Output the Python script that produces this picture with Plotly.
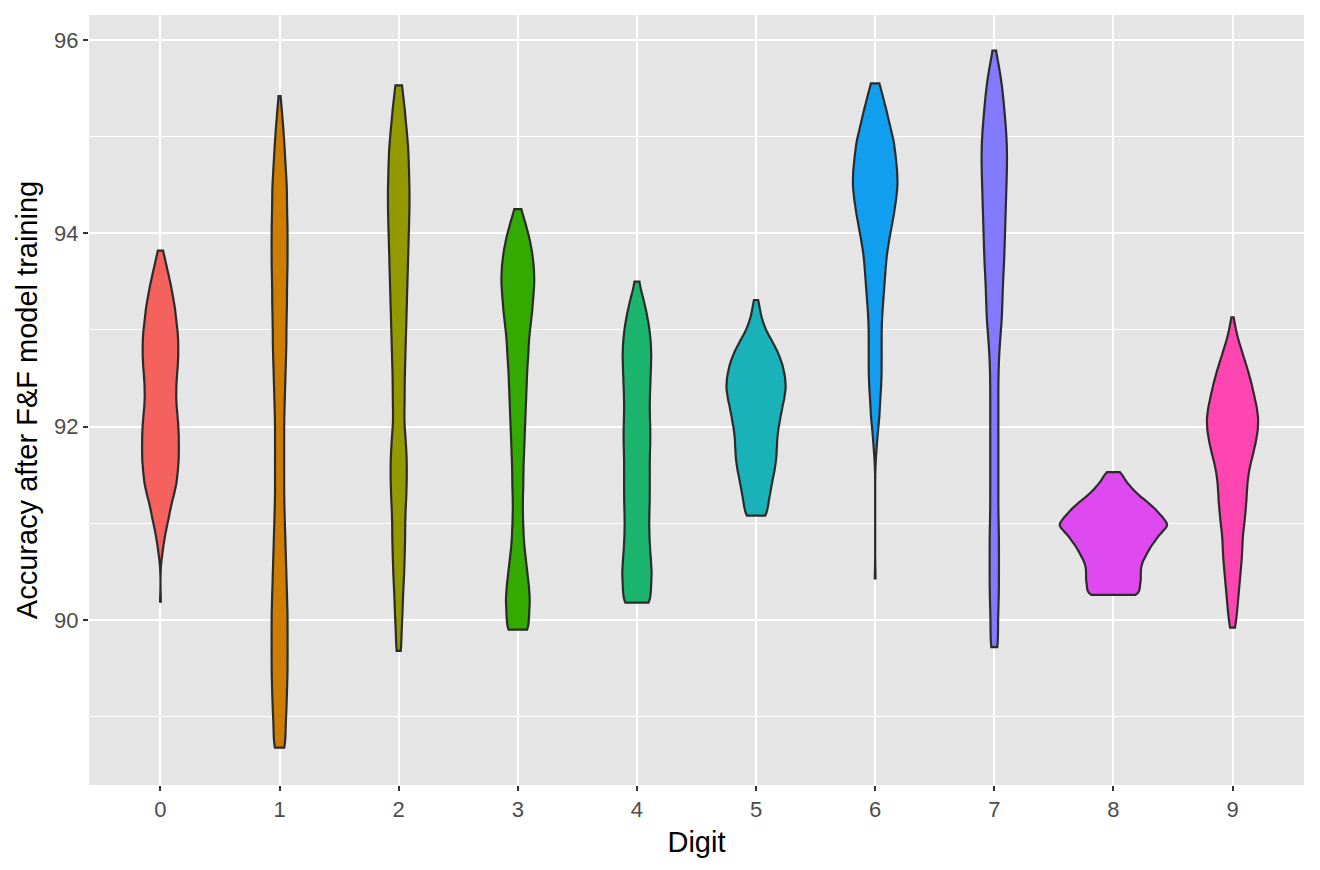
import numpy as np
import plotly.graph_objects as go

# Accuracy (%) after F&F model training, per digit.
# acc_k = accuracy levels, runs_k = number of runs at each level
digits = ["0", "1", "2", "3", "4", "5", "6", "7", "8", "9"]

acc_0 = [90.19, 90.58, 90.70, 90.82, 90.94, 91.06, 91.18, 91.30, 91.42, 91.54,
         91.66, 91.78, 91.90, 92.02, 92.14, 92.26, 92.38, 92.50, 92.62, 92.74,
         92.86, 92.98, 93.10, 93.22, 93.34, 93.46, 93.58, 93.70, 93.82]
runs_0 = [1, 1, 4, 7, 11, 16, 20, 26, 31, 33,
          35, 35, 35, 34, 32, 30, 30, 31, 33, 34,
          34, 33, 30, 28, 24, 20, 15, 10, 5]

acc_1 = [88.68, 88.86, 89.06, 89.26, 89.46, 89.66, 89.86, 90.06, 90.26, 90.46,
         90.66, 90.86, 91.06, 91.26, 91.46, 91.66, 91.86, 92.06, 92.26, 92.46,
         92.66, 92.86, 93.06, 93.26, 93.46, 93.66, 93.86, 94.06, 94.26, 94.46,
         94.66, 94.86, 95.06, 95.26, 95.42]
runs_1 = [9, 10, 12, 13, 14, 14, 14, 14, 13, 12,
          11, 10, 9, 8, 8, 8, 8, 8, 9, 10,
          11, 12, 12, 13, 13, 14, 14, 14, 13, 13,
          11, 9, 7, 4, 1]

acc_2 = [89.68, 89.86, 90.06, 90.26, 90.46, 90.66, 90.86, 91.06, 91.26, 91.46,
         91.66, 91.86, 92.06, 92.26, 92.46, 92.66, 92.86, 93.06, 93.26, 93.46,
         93.66, 93.86, 94.06, 94.26, 94.46, 94.66, 94.86, 95.06, 95.26, 95.40,
         95.53]
runs_2 = [4, 5, 7, 8, 10, 11, 12, 12, 14, 15,
          15, 13, 10, 11, 11, 12, 13, 14, 15, 16,
          17, 18, 19, 20, 20, 19, 18, 15, 11, 4,
          6]

acc_3 = [89.90, 90.05, 90.20, 90.35, 90.50, 90.65, 90.80, 90.95, 91.10, 91.25,
         91.40, 91.55, 91.70, 91.85, 92.00, 92.15, 92.30, 92.45, 92.60, 92.75,
         92.90, 93.05, 93.20, 93.35, 93.50, 93.65, 93.80, 93.95, 94.10, 94.25]
runs_3 = [20, 20, 22, 20, 17, 14, 11, 10, 9, 9,
          10, 10, 11, 12, 13, 14, 15, 16, 17, 19,
          20, 23, 26, 28, 30, 29, 26, 21, 14, 6]

acc_4 = [90.18, 90.33, 90.48, 90.63, 90.78, 90.93, 91.08, 91.23, 91.38, 91.53,
         91.68, 91.83, 91.98, 92.13, 92.28, 92.43, 92.58, 92.73, 92.88, 93.03,
         93.18, 93.33, 93.50]
runs_4 = [26, 26, 28, 26, 24, 23, 23, 24, 24, 24,
          24, 25, 25, 24, 24, 25, 26, 27, 26, 23,
          18, 12, 5]

acc_5 = [91.08, 91.20, 91.32, 91.44, 91.56, 91.68, 91.80, 91.92, 92.04, 92.16,
         92.28, 92.40, 92.52, 92.64, 92.76, 92.88, 93.00, 93.12, 93.24, 93.31]
runs_5 = [21, 24, 28, 32, 37, 40, 41, 42, 46, 50,
          55, 59, 57, 52, 44, 32, 19, 11, 6, 2]

acc_6 = [90.43, 91.65, 91.80, 91.95, 92.10, 92.25, 92.40, 92.55, 92.70, 92.85,
         93.00, 93.15, 93.30, 93.45, 93.60, 93.75, 93.90, 94.05, 94.20, 94.35,
         94.50, 94.65, 94.80, 94.95, 95.10, 95.25, 95.40, 95.55]
runs_6 = [1, 1, 3, 5, 8, 9, 11, 12, 12, 12,
          12, 13, 15, 17, 19, 21, 25, 30, 35, 39,
          42, 41, 38, 35, 28, 22, 15, 8]

acc_7 = [89.72, 89.90, 90.10, 90.30, 90.50, 90.70, 90.90, 91.10, 91.30, 91.50,
         91.70, 91.90, 92.10, 92.30, 92.50, 92.70, 92.90, 93.10, 93.30, 93.50,
         93.70, 93.90, 94.10, 94.30, 94.50, 94.70, 94.90, 95.10, 95.30, 95.50,
         95.70, 95.89]
runs_7 = [6, 6, 7, 8, 8, 8, 8, 7, 7, 7,
          7, 7, 7, 7, 7, 8, 10, 13, 14, 15,
          17, 18, 19, 20, 21, 22, 22, 20, 17, 14,
          9, 2]

acc_8 = [90.26, 90.34, 90.42, 90.50, 90.58, 90.66, 90.74, 90.82, 90.90, 90.98,
         91.06, 91.14, 91.22, 91.30, 91.38, 91.46, 91.53]
runs_8 = [53, 52, 55, 54, 56, 64, 72, 83, 94, 112,
          98, 85, 68, 48, 34, 21, 12]

acc_9 = [89.92, 90.04, 90.16, 90.28, 90.40, 90.52, 90.64, 90.76, 90.88, 91.00,
         91.12, 91.24, 91.36, 91.48, 91.60, 91.72, 91.84, 91.96, 92.08, 92.20,
         92.32, 92.44, 92.56, 92.68, 92.80, 92.92, 93.04, 93.13]
runs_9 = [5, 8, 10, 12, 14, 16, 18, 19, 20, 23,
          25, 27, 28, 30, 34, 40, 45, 49, 50, 47,
          42, 37, 31, 24, 17, 10, 5, 1]

acc_levels = [acc_0, acc_1, acc_2, acc_3, acc_4, acc_5, acc_6, acc_7, acc_8, acc_9]
acc_runs = [runs_0, runs_1, runs_2, runs_3, runs_4, runs_5, runs_6, runs_7, runs_8, runs_9]

# kernel bandwidth per digit
bandwidths = [0.072, 0.12, 0.12, 0.09, 0.09, 0.072, 0.09, 0.13, 0.048, 0.072]

fill_colors = ["#F5615C", "#CC7D02", "#939A00", "#34AA00", "#1BB56E",
               "#18B2B8", "#139FF0", "#847AFF", "#DE49F0", "#FF45B0"]

y_ticks = [90, 92, 94, 96]

fig = go.Figure()

for d, levels, runs, bw, col in zip(digits, acc_levels, acc_runs, bandwidths, fill_colors):
    y = np.repeat(levels, runs)
    fig.add_trace(go.Violin(
        x=[d] * len(y),
        y=y,
        name=d,
        fillcolor=col,
        opacity=1,
        line=dict(color="#2B2B2B", width=2.2),
        points=False,
        spanmode="hard",
        bandwidth=bw,
        scalemode="width",
        scalegroup="digits",
        showlegend=False,
        hoverinfo="y+name",
    ))

# the page body adds 8px around the figure, so the figure is 8px smaller
fig.update_layout(
    width=1312,
    height=862,
    paper_bgcolor="white",
    plot_bgcolor="#E5E5E5",
    margin=dict(l=81, r=16, t=7, b=85, autoexpand=False),
    violinmode="overlay",
    violingap=0.1,
    violingroupgap=0,
    font=dict(family="Liberation Sans, Arial, sans-serif"),
    xaxis=dict(
        type="category",
        categoryorder="array",
        categoryarray=digits,
        range=[-0.6, 9.6],
        automargin=False,
        showgrid=True,
        gridcolor="white",
        gridwidth=2,
        zeroline=False,
        showline=False,
        ticks="outside",
        ticklen=5,
        tickwidth=1.5,
        tickcolor="#333333",
        tickfont=dict(size=22, color="#4D4D4D"),
        title=dict(text="Digit", font=dict(size=29, color="black"), standoff=10),
    ),
    yaxis=dict(
        range=[88.293, 96.258],
        tickvals=y_ticks,
        automargin=False,
        showgrid=True,
        gridcolor="white",
        gridwidth=2,
        zeroline=False,
        showline=False,
        ticks="outside",
        ticklen=5,
        tickwidth=1.5,
        tickcolor="#333333",
        tickfont=dict(size=22, color="#4D4D4D"),
        minor=dict(dtick=1, tick0=89, showgrid=True, gridcolor="white", gridwidth=1),
        title=dict(text="Accuracy after F&F model training",
                   font=dict(size=29, color="black"), standoff=7),
    ),
)

fig.write_html("out.html")
